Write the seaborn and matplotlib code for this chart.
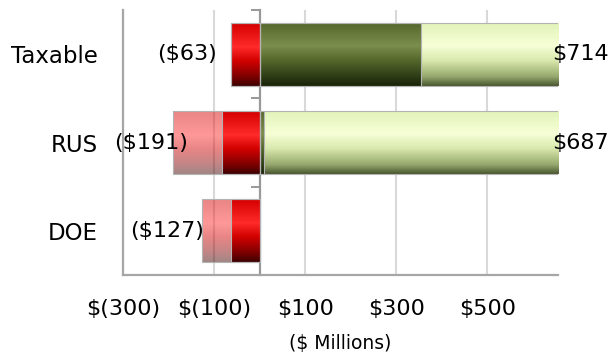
import numpy as np
import matplotlib
matplotlib.use("Agg")
import matplotlib.pyplot as plt
import seaborn as sns
from matplotlib.colors import LinearSegmentedColormap
from matplotlib.ticker import FixedLocator, FixedFormatter

# ---- data ($ millions) ----
categories = ["Taxable", "RUS", "DOE"]
neg_core = [-63, -83, -62]      # dark red segment
neg_rest = [0, -108, -65]       # light red segment
pos_core = [354, 10, 0]         # dark green segment
pos_rest = [360, 677, 0]        # light green segment
x_ticks = [-300, -100, 100, 300, 500]
x_tick_labels = ["$(300)", "$(100)", "$100", "$300", "$500"]
axis_label = "($ Millions)"

neg_total = np.add(neg_core, neg_rest)
pos_total = np.add(pos_core, pos_rest)

# ---- styling ----
sns.set_style("white")
plt.rcParams["font.family"] = ["DejaVu Sans"]
X_MIN, X_MAX = -300, 655
BAR_W = 0.71
LINE_GREY = "#a6a6a6"
GRID_GREY = "#d9d9d9"

# (position, colour) stops, top of bar to bottom
red_ramp = [(0.0, "#d40000"), (0.38, "#ff2a2a"), (0.6, "#d20000"),
            (0.85, "#7e0000"), (1.0, "#3c0000")]
dkgreen_ramp = [(0.0, "#55672b"), (0.36, "#7c8e4d"), (0.6, "#53662a"),
                (0.85, "#2e3c16"), (1.0, "#182206")]
ltgreen_ramp = [(0.0, "#e2f3ba"), (0.36, "#f6ffd6"), (0.6, "#d8e8ac"),
                (0.85, "#97a86e"), (1.0, "#4a5730")]

fig = plt.figure(figsize=(6.12, 3.58), dpi=100)
ax = fig.add_axes([123 / 612, 83 / 358, 435 / 612, 265 / 358])


def draw_layer(values, color):
    start = len(ax.patches)
    sns.barplot(x=values, y=categories, orient="h", width=BAR_W, color=color,
                edgecolor="#b3b3b3", linewidth=0.8, ax=ax)
    return ax.patches[start:]


# larger totals first so the core segments sit on top
layers = [
    (draw_layer(neg_total, "#f08080"), red_ramp, 0.48),
    (draw_layer(neg_core, "#d00000"), red_ramp, 1.0),
    (draw_layer(pos_total, "#e4f4bc"), ltgreen_ramp, 1.0),
    (draw_layer(pos_core, "#55672b"), dkgreen_ramp, 1.0),
]

# vertical gradient fills inside each bar (limited to the visible range)
for patches, ramp, alpha in layers:
    cmap = LinearSegmentedColormap.from_list("bar", ramp)
    grad = cmap(np.linspace(0, 1, 256))[:, None, :].copy()
    grad[..., 3] = alpha
    for p in patches:
        w = p.get_width()
        if abs(w) < 1e-9:
            p.set_visible(False)
            continue
        x0 = p.get_x()
        lo = max(min(x0, x0 + w), X_MIN)
        hi = min(max(x0, x0 + w), X_MAX)
        y0, h = p.get_y(), p.get_height()
        z = p.get_zorder()
        ax.imshow(grad, extent=(lo, hi, y0 + h, y0), origin="upper", aspect="auto",
                  interpolation="bilinear", zorder=z + 0.01)
        p.set_facecolor("none")
        p.set_zorder(z + 0.02)

ax.set_xlim(X_MIN, X_MAX)
ax.set_ylim(2.5, -0.5)

# value labels
fs = 16
neg_nudge_px = [-14, 15, 2]
for i, tot in enumerate(neg_total):
    ax.annotate(f"(${abs(tot):.0f})", xy=(tot, i), xytext=(neg_nudge_px[i] * 0.72, 0),
                textcoords="offset points", ha="right", va="center", fontsize=fs,
                color="black", zorder=10)
for i, tot in enumerate(pos_total):
    if tot > 0:
        ax.annotate(f"${tot:.0f}", xy=(min(tot, X_MAX), i), xytext=(-4.5, 0),
                    textcoords="offset points", ha="left", va="center", fontsize=fs,
                    color="black", annotation_clip=False, zorder=10)

# axes decoration
ax.xaxis.set_major_locator(FixedLocator(x_ticks))
ax.xaxis.set_major_formatter(FixedFormatter(x_tick_labels))
ax.tick_params(axis="x", direction="out", length=6, width=1.2, color=LINE_GREY,
               pad=11, labelsize=fs, labelcolor="black")
ax.tick_params(axis="y", length=0, pad=18, labelsize=16.5, labelcolor="black")
ax.set_ylabel("")
ax.set_xlabel(axis_label, fontsize=13.5, labelpad=11, color="black")
ax.grid(axis="x", color=GRID_GREY, linewidth=1.5)
ax.grid(axis="y", visible=False)
ax.set_axisbelow(True)
for side in ("top", "right"):
    ax.spines[side].set_visible(False)
for side in ("left", "bottom"):
    ax.spines[side].set_color(LINE_GREY)
    ax.spines[side].set_linewidth(1.6)

# category axis crossing at zero
zero_frac = (0 - X_MIN) / (X_MAX - X_MIN)
zero_axis = ax.secondary_yaxis(zero_frac)
zero_axis.set_yticks([-0.5, 0.5, 1.5, 2.5])
zero_axis.set_yticklabels([])
zero_axis.tick_params(direction="out", length=6.5, width=1.4, color="#999999")
zero_axis.spines["left"].set_color("#999999")
zero_axis.spines["left"].set_linewidth(1.6)
for side in ("top", "right", "bottom"):
    zero_axis.spines[side].set_visible(False)

fig.savefig("out.png", dpi=100)
